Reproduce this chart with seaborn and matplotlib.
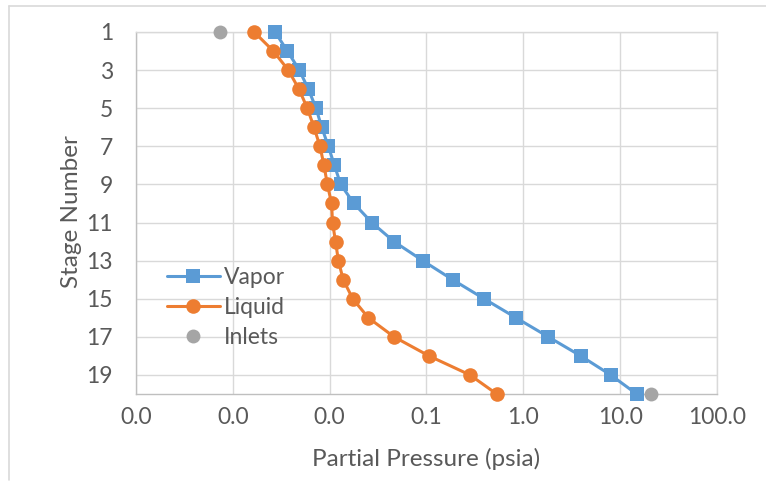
import matplotlib
matplotlib.use("Agg")
import matplotlib.pyplot as plt
from matplotlib.lines import Line2D
import matplotlib.ticker as mticker
import numpy as np
import pandas as pd
import seaborn as sns

# ---- data ----
stages = list(range(1, 21))
vapor = [0.00273, 0.00366, 0.00486, 0.00603, 0.00723, 0.00828, 0.00969, 0.0112,
         0.0130, 0.0178, 0.0272, 0.0462, 0.0914, 0.186, 0.393, 0.840, 1.81,
         3.91, 7.98, 14.8]
liquid = [0.00166, 0.00262, 0.00374, 0.00482, 0.00588, 0.00689, 0.00794, 0.00874,
          0.00946, 0.01047, 0.0107, 0.0115, 0.0123, 0.0138, 0.0173, 0.0251,
          0.0462, 0.106, 0.281, 0.531]
inlet_stages = [1, 20]
inlet_values = [0.00074, 20.6]
x_ticks = [0.0001, 0.001, 0.01, 0.1, 1, 10, 100]
y_ticks = [1, 3, 5, 7, 9, 11, 13, 15, 17, 19]

BLUE = "#5B9BD5"
ORANGE = "#ED7D31"
GRAY = "#A5A5A5"
TXT = "#595959"

sns.set_theme(style="white")
plt.rcParams["font.family"] = ["Lato", "DejaVu Sans"]

fig = plt.figure(figsize=(7.66, 4.83), dpi=100)
W, H = 766, 483
ax = fig.add_axes([136 / W, 1 - 394 / H, (717 - 136) / W, (394 - 32) / H])

df_v = pd.DataFrame({"p": vapor, "s": stages})
df_l = pd.DataFrame({"p": liquid, "s": stages})
df_i = pd.DataFrame({"p": inlet_values, "s": inlet_stages})

sns.lineplot(data=df_v, x="p", y="s", ax=ax, sort=False, estimator=None,
             color=BLUE, linewidth=2.2, marker="s", markersize=9.5,
             markeredgewidth=0, label="Vapor", zorder=3, clip_on=False)
sns.lineplot(data=df_l, x="p", y="s", ax=ax, sort=False, estimator=None,
             color=ORANGE, linewidth=2.2, marker="o", markersize=10.5,
             markeredgewidth=0, label="Liquid", zorder=4, clip_on=False)
sns.scatterplot(data=df_i, x="p", y="s", ax=ax, color=GRAY, s=100,
                linewidth=0, label="Inlets", zorder=5, clip_on=False)

ax.set_xscale("log")
ax.set_xlim(1e-4, 100)
ax.set_ylim(20, 1)
ax.set_xticks(x_ticks)
ax.xaxis.set_major_formatter(mticker.FuncFormatter(lambda v, p: f"{v:.1f}"))
ax.xaxis.set_minor_locator(mticker.NullLocator())
ax.set_yticks(y_ticks)
ax.set_yticklabels([str(t) for t in y_ticks])

ax.grid(True, which="major", color="#D9D9D9", linewidth=1.0)
ax.set_axisbelow(True)
for side in ["top", "right"]:
    ax.spines[side].set_color("#D9D9D9")
    ax.spines[side].set_linewidth(1.0)
for side in ["left", "bottom"]:
    ax.spines[side].set_color("#BFBFBF")
    ax.spines[side].set_linewidth(1.0)

ax.tick_params(axis="both", length=0, labelsize=16.5, labelcolor=TXT)
ax.tick_params(axis="y", pad=16.5)
ax.tick_params(axis="x", pad=9)

ax.set_xlabel("Partial Pressure (psia)", fontsize=17.5, color=TXT)
ax.set_ylabel("Stage Number", fontsize=17.5, color=TXT)
ax.xaxis.set_label_coords((426 - 136) / 581, (394 - 448) / 362)
ax.yaxis.set_label_coords((82 - 136) / 581, (394 - 212) / 362)

handles = [
    Line2D([], [], color=BLUE, lw=2.2, marker="s", ms=9.5, mew=0),
    Line2D([], [], color=ORANGE, lw=2.2, marker="o", ms=10.5, mew=0),
    Line2D([], [], color=GRAY, lw=0, marker="o", ms=10, mew=0),
]
leg = ax.legend(handles, ["Vapor", "Liquid", "Inlets"], loc="upper left",
                bbox_to_anchor=(167 / W, 1 - 267 / H), bbox_transform=fig.transFigure,
                frameon=False, fontsize=16.5, handlelength=2.3, handletextpad=0.2,
                labelspacing=0.4, borderpad=0, borderaxespad=0)
for t in leg.get_texts():
    t.set_color(TXT)

# chart-area border (only top and left visible in crop)
fig.add_artist(Line2D([9 / W, 9 / W], [1 - 480 / H, 1 - 6 / H],
                      transform=fig.transFigure, color="#D9D9D9", lw=1.2))
fig.add_artist(Line2D([9 / W, 1.0], [1 - 6 / H, 1 - 6 / H],
                      transform=fig.transFigure, color="#D9D9D9", lw=1.2))

fig.savefig("out.png", dpi=100)
